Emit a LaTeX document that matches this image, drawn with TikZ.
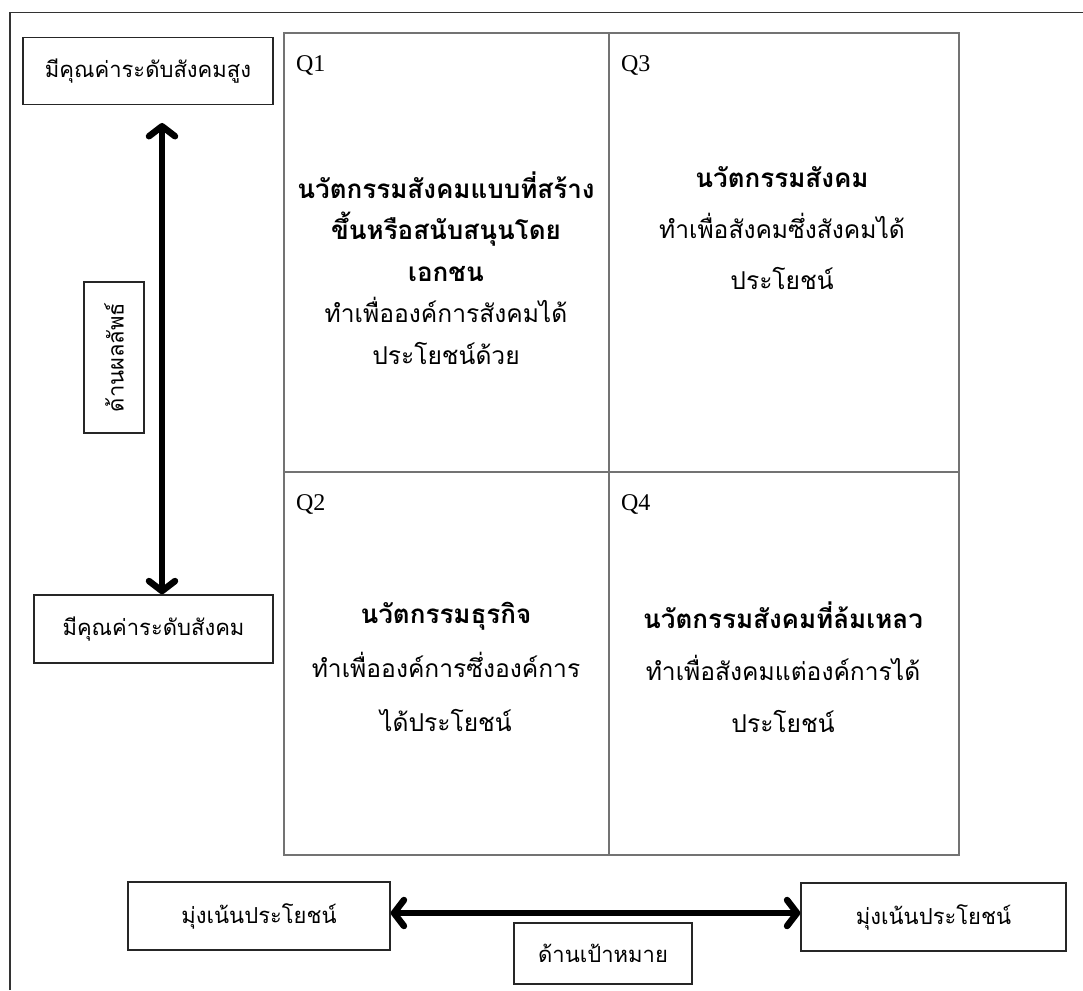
\documentclass[tikz,border=0pt]{standalone}
\usepackage{fontspec}
\setmainfont{Liberation Serif}
\newfontfamily\thai[Script=Thai]{Loma}
\usetikzlibrary{arrows.meta}
% bold heading line inside a quadrant
\newcommand{\headline}[1]{{\fontsize{26}{26}\selectfont\bfseries #1}}

\begin{document}
\begin{tikzpicture}[x=1pt,y=-1pt,
  frame/.style={draw=black!80, line width=1.5pt},
  cell/.style={draw=black!55, line width=2.2pt, inner sep=0pt},
  tag/.style={draw=black!85, line width=1.4pt, inner sep=0pt,
    font=\thai\fontsize{22}{26}\selectfont},
  qlab/.style={inner sep=0pt, font=\fontsize{24}{28}\selectfont},
  body/.style={inner sep=0pt, align=center},
  axisarrow/.style={line width=6.5pt,
    {Straight Barb[length=10pt,width=26pt,round]}-{Straight Barb[length=10pt,width=26pt,round]}}
]
\useasboundingbox (0,0) rectangle (1083,990);

% open outer frame (top and left edges)
\draw[frame] (10,990) -- (10,12.5) -- (1083,12.5);

% four quadrants
\node[cell, minimum width=325pt, minimum height=439pt] (q1) at (446.5,252.5) {};
\node[cell, minimum width=350pt, minimum height=439pt] (q3) at (784,252.5) {};
\node[cell, minimum width=325pt, minimum height=383pt] (q2) at (446.5,663.5) {};
\node[cell, minimum width=350pt, minimum height=383pt] (q4) at (784,663.5) {};

\node[qlab, anchor=base west] (q1l) at ([xshift=13pt,yshift=-40pt]q1.north west) {Q1};
\node[qlab, anchor=base west] (q3l) at ([xshift=13pt,yshift=-40pt]q3.north west) {Q3};
\node[qlab, anchor=base west] (q2l) at ([xshift=13pt,yshift=-40pt]q2.north west) {Q2};
\node[qlab, anchor=base west] (q4l) at ([xshift=13pt,yshift=-40pt]q4.north west) {Q4};

\node[body, font=\thai\fontsize{24.6}{41.5}\selectfont] (q1t) at (446,268)
  {\headline{นวัตกรรมสังคมแบบที่สร้าง}\\ \headline{ขึ้นหรือสนับสนุนโดย}\\ \headline{เอกชน}\\
   ทำเพื่อองค์การสังคมได้\\ ประโยชน์ด้วย};
\node[body, font=\thai\fontsize{24.6}{51}\selectfont] (q3t) at (782,228)
  {\headline{นวัตกรรมสังคม}\\ ทำเพื่อสังคมซึ่งสังคมได้\\ ประโยชน์};
\node[body, font=\thai\fontsize{24.6}{54}\selectfont] (q2t) at (446,667)
  {\headline{นวัตกรรมธุรกิจ}\\ ทำเพื่อองค์การซึ่งองค์การ\\ ได้ประโยชน์};
\node[body, font=\thai\fontsize{24.6}{52}\selectfont] (q4t) at (783,667)
  {\headline{นวัตกรรมสังคมที่ล้มเหลว}\\ ทำเพื่อสังคมแต่องค์การได้\\ ประโยชน์};

% vertical axis
\node[tag, minimum width=250pt, minimum height=67pt] (hi) at (148,71) {มีคุณค่าระดับสังคมสูง};
\node[tag, minimum width=239pt, minimum height=68pt] (lo) at (153.5,629) {มีคุณค่าระดับสังคม};
\node[tag, minimum width=151pt, minimum height=60pt, rotate=90] (va) at (114,357.5) {ด้านผลลัพธ์};
\coordinate (vtop) at (162,123);
\draw[axisarrow] (vtop) -- (lo.north -| vtop);

% horizontal axis
\node[tag, minimum width=262pt, minimum height=68pt] (lg) at (259,916) {มุ่งเน้นประโยชน์};
\node[tag, minimum width=265pt, minimum height=68pt] (rg) at (933.5,917) {มุ่งเน้นประโยชน์};
\node[tag, minimum width=178pt, minimum height=61pt] (ha) at (603,953.5) {ด้านเป้าหมาย};
\coordinate (hy) at (0,913);
\draw[axisarrow] (lg.east |- hy) -- (rg.west |- hy);
\end{tikzpicture}
\end{document}
